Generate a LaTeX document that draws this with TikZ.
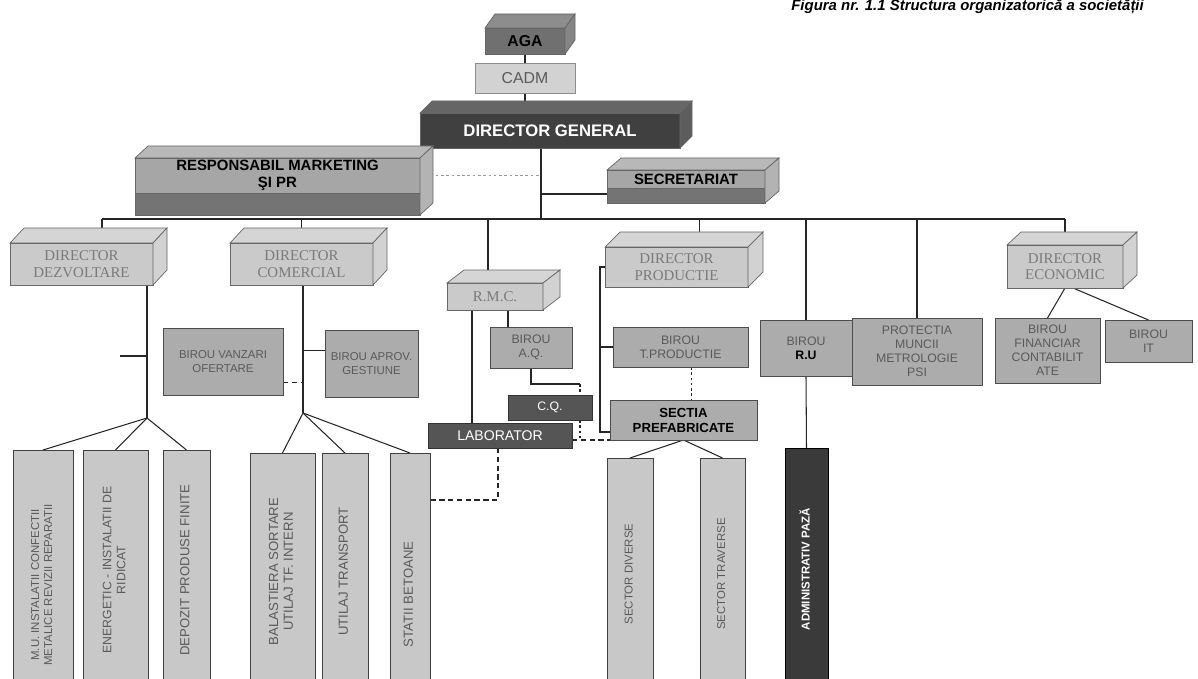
\documentclass[tikz,border=0pt]{standalone}
\usepackage{fontspec}
\setmainfont{Liberation Sans}
\newfontfamily\dirfont{Liberation Serif}
\usetikzlibrary{calc}
\pgfdeclarelayer{background}
\pgfsetlayers{background,main}
\definecolor{agagray}{HTML}{707070}
\definecolor{cadmgray}{HTML}{D2D2D2}
\definecolor{dggray}{HTML}{404040}
\definecolor{respgray}{HTML}{A6A6A6}
\definecolor{dirgray}{HTML}{CACACA}
\definecolor{officegray}{HTML}{ACACAC}
\definecolor{darkoffice}{HTML}{555555}
\definecolor{admgray}{HTML}{3A3A3A}
\definecolor{columngray}{HTML}{C8C8C8}
\definecolor{txtgray}{HTML}{5A5A5A}
\definecolor{dirtxt}{HTML}{7A7A7A}
\def\pu{0.02cm}
\def\slab[#1](#2)(#3:#4:#5){%
  \coordinate (#2-se) at ([yshift=-#5*\pu]#2.south east);
  \coordinate (#2-sw) at ([yshift=-#5*\pu]#2.south west);
  \filldraw[draw=black!60, fill=#1!70!black] (#2.south west) rectangle (#2-se);
  \filldraw[draw=black!60, fill=#1!80!white] (#2.north west) -- ++(#3,#4) -- ($(#2.north east)+(#3,#4)$) -- (#2.north east) -- cycle;
  \filldraw[draw=black!60, fill=#1!85!white] (#2.north east) -- ++(#3,#4) -- ($(#2-se)+(#3,#4)$) -- (#2-se) -- cycle;}
\newcommand{\vtext}[1]{\rotatebox{90}{\begin{tabular}{@{}c@{}}#1\end{tabular}}}

\begin{document}
\begin{tikzpicture}[x=0.02cm, y=-0.02cm,
    sz/.style 2 args={minimum width=#1*\pu, minimum height=#2*\pu},
    box/.style={rectangle, inner sep=0pt, outer sep=0pt, align=center, draw=black!60},
    cube/.style={box},
    dirbox/.style={box, fill=dirgray, text=dirtxt, font=\dirfont\fontsize{8.5}{9.5}\selectfont},
    office/.style={box, fill=officegray, draw=black!70, text=txtgray, font=\fontsize{7}{8}\selectfont},
    darkbox/.style={box, fill=darkoffice, draw=black!80, text=white, font=\fontsize{8}{9}\selectfont},
    column/.style={box, fill=columngray, draw=black!75, text=txtgray, font=\fontsize{7.5}{8.5}\selectfont},
    conn/.style={draw=black!85, line width=0.6pt},
    dotline/.style={conn, dash pattern=on 1.5pt off 1.5pt},
    dashline/.style={conn, dash pattern=on 3pt off 2pt}]
		%%%%% START %%%%%
		\useasboundingbox (0,0) rectangle (1198,679);
		\clip (0,0) rectangle (1198,679);
		
		\node[anchor=base east, font=\bfseries\itshape\fontsize{8.5}{10}\selectfont] (title) at (1150,11) {Figura nr. 1.1 Structura organizatorică a societății};
		
		% top of the chart
		\node[cube, sz={80}{26}, fill=agagray, font=\bfseries\fontsize{9}{10}\selectfont] (aga) at (525,41) {AGA};
		\slab[agagray](aga)(10:-14:0)
		\node[box, sz={100}{30}, fill=cadmgray, draw=black!45, text=txtgray, font=\fontsize{9}{10}\selectfont] (cadm) at (525,78) {CADM};
		\node[cube, sz={260}{35}, fill=dggray, text=white, font=\bfseries\fontsize{9.5}{11}\selectfont] (dg) at (550,130.5) {DIRECTOR GENERAL};
		\slab[dggray](dg)(12:-12:0)
		
		\node[cube, sz={285}{35}, fill=respgray, font=\bfseries\fontsize{8.5}{10}\selectfont] (resp) at (277.5,175.5) {RESPONSABIL MARKETING\\ŞI PR};
		\slab[respgray](resp)(13:-12:22)
		\node[cube, sz={158}{18}, fill=respgray, font=\bfseries\fontsize{8.5}{10}\selectfont] (secr) at (686,179) {SECRETARIAT};
		\slab[respgray](secr)(14:-12:15)
		
		% directors
		\node[dirbox, sz={143}{42}] (dd) at (81.5,264) {DIRECTOR\\DEZVOLTARE};
		\slab[dirgray](dd)(14:-15:0)
		\node[dirbox, sz={143}{42}] (dc) at (301.5,264) {DIRECTOR\\COMERCIAL};
		\slab[dirgray](dc)(14:-15:0)
		\node[dirbox, sz={96}{27}] (rmc) at (495,296.5) {R.M.C.};
		\slab[dirgray](rmc)(17:-13:0)
		\node[dirbox, sz={143}{40}] (dp) at (676.5,267) {DIRECTOR\\PRODUCTIE};
		\slab[dirgray](dp)(15:-15:0)
		\node[dirbox, sz={116}{43}] (de) at (1065,266.5) {DIRECTOR\\ECONOMIC};
		\slab[dirgray](de)(14:-13:0)
		
		% offices
		\node[office, sz={120}{67}, font=\fontsize{6.5}{8}\selectfont] (bvo) at (223,361.5) {BIROU VANZARI\\OFERTARE};
		\node[office, sz={93}{67}, font=\fontsize{6.5}{8}\selectfont] (bag) at (371.5,363.5) {BIROU APROV.\\GESTIUNE};
		\node[office, sz={82}{41}] (baq) at (531,347.5) {BIROU\\A.Q.};
		\node[darkbox, sz={84}{25}, font=\fontsize{7}{8}\selectfont] (cq) at (550,407.5) {C.Q.};
		\node[darkbox, sz={144}{25}] (lab) at (500,435.5) {LABORATOR};
		\node[office, sz={135}{40}] (btp) at (680.5,347) {BIROU\\T.PRODUCTIE};
		\node[office, sz={147}{40}, text=black, font=\bfseries\fontsize{7.5}{8.5}\selectfont] (sp) at (683.5,420) {SECTIA\\PREFABRICATE};
		\node[office, sz={92}{56}] (bru) at (806,348) {BIROU\\\textbf{\color{black}R.U}};
		\node[office, sz={130}{67}] (ppsi) at (917,351.5) {PROTECTIA\\MUNCII\\METROLOGIE\\PSI};
		\node[office, sz={105}{65}] (bfc) at (1047.5,350.5) {BIROU\\FINANCIAR\\CONTABILIT\\ATE};
		\node[office, sz={87}{42}] (bit) at (1148.5,341) {BIROU\\IT};
		
		% columns at the bottom
		\node[column, sz={60}{240}, font=\fontsize{6.5}{7.5}\selectfont] (m1) at (43,570) {\vtext{M.U. INSTALATII CONFECTII\hspace*{17pt}\\METALICE REVIZII REPARATII\hspace*{17pt}}};
		\node[column, sz={65}{240}, font=\fontsize{7}{8}\selectfont] (m2) at (115.5,570) {\vtext{ENERGETIC - INSTALATII DE\\RIDICAT}};
		\node[column, sz={47}{240}] (m3) at (186.5,570) {\vtext{DEPOZIT PRODUSE FINITE}};
		\node[column, sz={65}{237}] (c1) at (282.5,571.5) {\vtext{BALASTIERA SORTARE\\UTILAJ TF. INTERN}};
		\node[column, sz={46}{237}] (c2) at (345,571.5) {\vtext{UTILAJ TRANSPORT}};
		\node[column, sz={40}{237}] (c3) at (410,571.5) {\vtext{STATII BETOANE\hspace*{26pt}}};
		\node[column, sz={46}{232}, font=\fontsize{6.5}{7.5}\selectfont] (s1) at (630,574) {\vtext{SECTOR DIVERSE}};
		\node[column, sz={45}{232}, font=\fontsize{6.5}{7.5}\selectfont] (s2) at (722.5,574) {\vtext{SECTOR TRAVERSE}};
		\node[column, sz={43}{242}, fill=admgray, draw=black, text=white, font=\bfseries\fontsize{6.5}{7.5}\selectfont] (adm) at (806.5,569) {\vtext{ADMINISTRATIV PAZĂ}};
		
		% connectors
		\coordinate (hub) at (541,219);
		\coordinate (busL) at (102,219);
		\coordinate (busR) at (de.north |- hub);
		\coordinate (secr-in) at ([yshift=-15*\pu]secr.west);
		\coordinate (ddfork) at (147,418);
		\coordinate (ddstub) at (120,356);
		\coordinate (dcfork) at (303,413);
		\coordinate (bag-in) at ([yshift=13*\pu]bag.west);
		\coordinate (bvo-out) at ([yshift=-21*\pu]bvo.east);
		\coordinate (rmc-l) at ([xshift=-23*\pu]rmc.south);
		\coordinate (rmc-r) at ([xshift=13*\pu]rmc.south);
		\coordinate (rmc-top) at ([xshift=-7*\pu]rmc.north);
		\coordinate (dp-top) at ([xshift=23*\pu]dp.north);
		\coordinate (aq-bend) at (580,384);
		\coordinate (cq-link) at (580,440);
		\coordinate (lab-drop) at (498,500);
		\coordinate (dp-bracket) at (600,432);
		\coordinate (btp-down) at ([xshift=11*\pu]btp.south);
		\coordinate (de-r) at ([xshift=8*\pu]de.south);
		
		\begin{pgfonlayer}{background}
		\draw[conn] (aga) -- (cadm);
		\draw[conn] (cadm) -- (cadm |- dg.north);
		\draw[conn] (dg.south -| hub) -- (hub);
		\draw[dotline, draw=black!40] (resp.east) -- (resp.east -| hub);
		\draw[conn] (secr-in) -- (secr-in -| hub);
		\draw[conn] (busL) -- (busR);
		
		\draw[conn] (busL) -- (busL |- dd.north);
		\draw[conn] (dc.north |- hub) -- (dc.north);
		\draw[conn] (rmc-top |- hub) -- (rmc-top);
		\draw[conn] (dp-top |- hub) -- (dp-top);
		\draw[conn] (bru.north |- hub) -- (bru.north);
		\draw[conn] (ppsi.north |- hub) -- (ppsi.north);
		\draw[conn] (busR) -- (de.north);
		
		\draw[conn] (ddfork |- dd.south) -- (ddfork);
		\draw[conn] (ddstub) -- (ddstub -| ddfork);
		\draw[conn] (ddfork) -- (m1.north);
		\draw[conn] (ddfork) -- (m2.north);
		\draw[conn] (ddfork) -- (m3.north);
		
		\draw[conn] (dcfork |- dc.south) -- (dcfork);
		\draw[conn] (bag-in) -- (bag-in -| dcfork);
		\draw[dashline] (bvo-out) -- (bvo-out -| dcfork);
		\draw[conn] (dcfork) -- (c1.north);
		\draw[conn] (dcfork) -- (c2.north);
		\draw[conn] (dcfork) -- (c3.north);
		
		\draw[conn] (rmc-l) -- (rmc-l |- lab.north);
		\draw[conn] (rmc-r) -- (rmc-r |- baq.north);
		\draw[conn] (baq.south) |- (aq-bend);
		\draw[dotline] (aq-bend) -- (aq-bend |- cq.north);
		\draw[dotline] (cq-link |- cq.south) -- (cq-link);
		\draw[dashline] (cq-link -| lab.east) -- (cq-link -| sp.west);
		\draw[dashline] (lab-drop |- lab.south) -- (lab-drop) -- (lab-drop -| c3.east);
		
		\draw[conn] (dp.west) -| (dp-bracket) -- (dp-bracket -| sp.west);
		\draw[conn] (btp.west -| dp-bracket) -- (btp.west);
		\draw[dotline] (btp-down) -- (btp-down |- sp.north);
		\draw[conn] (sp.south) -- (s1.north);
		\draw[conn] (sp.south) -- (s2.north);
		
		\draw[conn] (bru.south) -- (adm.north);
		\draw[conn] (de.south) -- (bfc.north);
		\draw[conn] (de-r) -- (bit.north);
		\end{pgfonlayer}
		
		%%%%% END %%%%%
\end{tikzpicture}
\end{document}
